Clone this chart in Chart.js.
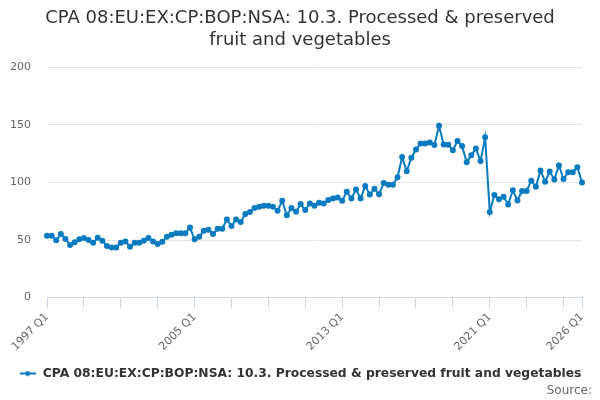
<!DOCTYPE html>
<html>
<head>
<meta charset="utf-8">
<script src="https://cdn.jsdelivr.net/npm/chart.js@4/dist/chart.umd.min.js"></script>
<style>
  html, body { margin: 0; padding: 0; background: #fff; }
  #wrap { width: 600px; height: 400px; }
</style>
</head>
<body>
<div id="wrap"><canvas id="myLineChart"></canvas></div>
<script>
// quarters 1997 Q1 .. 2026 Q1
var firstYear = 1997;
var lastYear = 2026;
var quarterNames = ['Q1', 'Q2', 'Q3', 'Q4'];

var seriesName = 'CPA 08:EU:EX:CP:BOP:NSA: 10.3. Processed & preserved fruit and vegetables';

var values = [
  53.8, 53.8, 49.7, 55.2, 50.9, 45.7, 48.0, 50.6, 51.7, 50.0,
  47.7, 52.0, 49.4, 44.8, 43.6, 43.6, 47.7, 48.8, 44.2, 47.7,
  47.7, 49.4, 51.7, 48.8, 46.5, 48.6, 52.9, 54.6, 55.8, 55.8,
  55.8, 60.8, 50.6, 52.9, 58.0, 59.0, 55.2, 59.8, 59.8, 67.9,
  62.1, 67.9, 65.6, 72.5, 74.3, 77.7, 78.9, 79.8, 79.8, 78.9,
  75.4, 84.1, 71.4, 77.7, 74.6, 81.2, 76.0, 81.8, 79.8, 82.4,
  81.8, 84.7, 86.1, 87.0, 84.1, 91.9, 86.1, 93.9, 86.1, 96.8,
  89.5, 94.5, 89.8, 99.4, 97.9, 97.9, 104.4, 122.0, 109.7, 121.5,
  128.5, 133.8, 133.8, 134.7, 132.4, 149.1, 132.9, 132.6, 127.9, 135.9,
  131.5, 117.6, 123.5, 129.4, 118.5, 139.1, 74.4, 89.1, 85.3, 87.6,
  80.9, 93.2, 84.4, 92.6, 92.6, 101.5, 96.2, 110.3, 100.6, 109.4,
  102.6, 114.7, 102.9, 108.8, 108.8, 113.2, 100.0
];

var yTicks = [0, 50, 100, 150, 200];

var labels = [];
for (var y = firstYear; y <= lastYear; y++) {
  for (var q = 0; q < 4; q++) {
    if (y === lastYear && q > 0) break;
    labels.push(y + ' ' + quarterNames[q]);
  }
}

var lineColor = '#0b7bc0';
var lastIdx = labels.length - 1;

// legend symbol: short line with a dot, like the original
function legendSymbol() {
  var c = document.createElement('canvas');
  c.width = 16; c.height = 8;
  var ctx = c.getContext('2d');
  ctx.strokeStyle = lineColor;
  ctx.lineWidth = 2;
  ctx.beginPath(); ctx.moveTo(0, 4); ctx.lineTo(16, 4); ctx.stroke();
  ctx.fillStyle = lineColor;
  ctx.beginPath(); ctx.arc(8, 4, 2.5, 0, Math.PI * 2); ctx.fill();
  return c;
}

Chart.defaults.font.family = '"DejaVu Sans", sans-serif';

new Chart(document.getElementById('myLineChart'), {
  type: 'line',
  data: {
    labels: labels,
    datasets: [{
      label: seriesName,
      data: values,
      borderColor: lineColor,
      backgroundColor: lineColor,
      borderWidth: 2,
      pointRadius: 2,
      pointHoverRadius: 3,
      tension: 0
    }]
  },
  options: {
    responsive: true,
    maintainAspectRatio: false,
    animation: false,
    layout: {
      padding: { left: 8, right: 8, top: 8, bottom: 2 }
    },
    plugins: {
      title: {
        display: true,
        text: ['CPA 08:EU:EX:CP:BOP:NSA: 10.3. Processed & preserved', 'fruit and vegetables'],
        color: '#333333',
        font: { size: 18, weight: 'normal' },
        padding: { top: 0, bottom: 16 }
      },
      subtitle: {
        display: true,
        position: 'bottom',
        align: 'end',
        text: 'Source:',
        color: '#666666',
        font: { size: 12 },
        padding: { top: -6, bottom: 0 }
      },
      legend: {
        position: 'bottom',
        labels: {
          usePointStyle: true,
          pointStyle: legendSymbol(),
          pointStyleWidth: 18,
          color: '#333333',
          font: { size: 12.3, weight: 'bold' },
          padding: 4
        }
      },
      tooltip: { enabled: false }
    },
    scales: {
      x: {
        type: 'category',
        offset: false,
        afterBuildTicks: function(axis) {
          axis.ticks = axis.ticks.filter(function(t) {
            return t.value % 8 === 0 || t.value === lastIdx;
          });
        },
        afterFit: function(axis) {
          // rotated labels hang outside the plot like the original
          axis.paddingLeft = 0;
          axis.paddingRight = 18;
          axis.height += 7;
        },
        ticks: {
          autoSkip: false,
          maxRotation: 45,
          minRotation: 45,
          color: '#666666',
          font: { size: 11 },
          callback: function(val) {
            return (val % 32 === 0 || val === lastIdx) ? labels[val] : '';
          }
        },
        grid: {
          drawOnChartArea: false,
          drawTicks: true,
          tickLength: 10,
          color: '#ccd6eb'
        },
        border: { color: '#ccd6eb' }
      },
      y: {
        min: 0,
        max: 200,
        afterBuildTicks: function(axis) {
          axis.ticks = yTicks.map(function(v) { return { value: v }; });
        },
        afterFit: function(axis) {
          axis.width = 39;
        },
        ticks: {
          color: '#666666',
          font: { size: 11 },
          padding: 16
        },
        grid: {
          color: '#e6e6e6',
          drawTicks: false
        },
        border: { display: false }
      }
    }
  }
});
</script>
</body>
</html>
